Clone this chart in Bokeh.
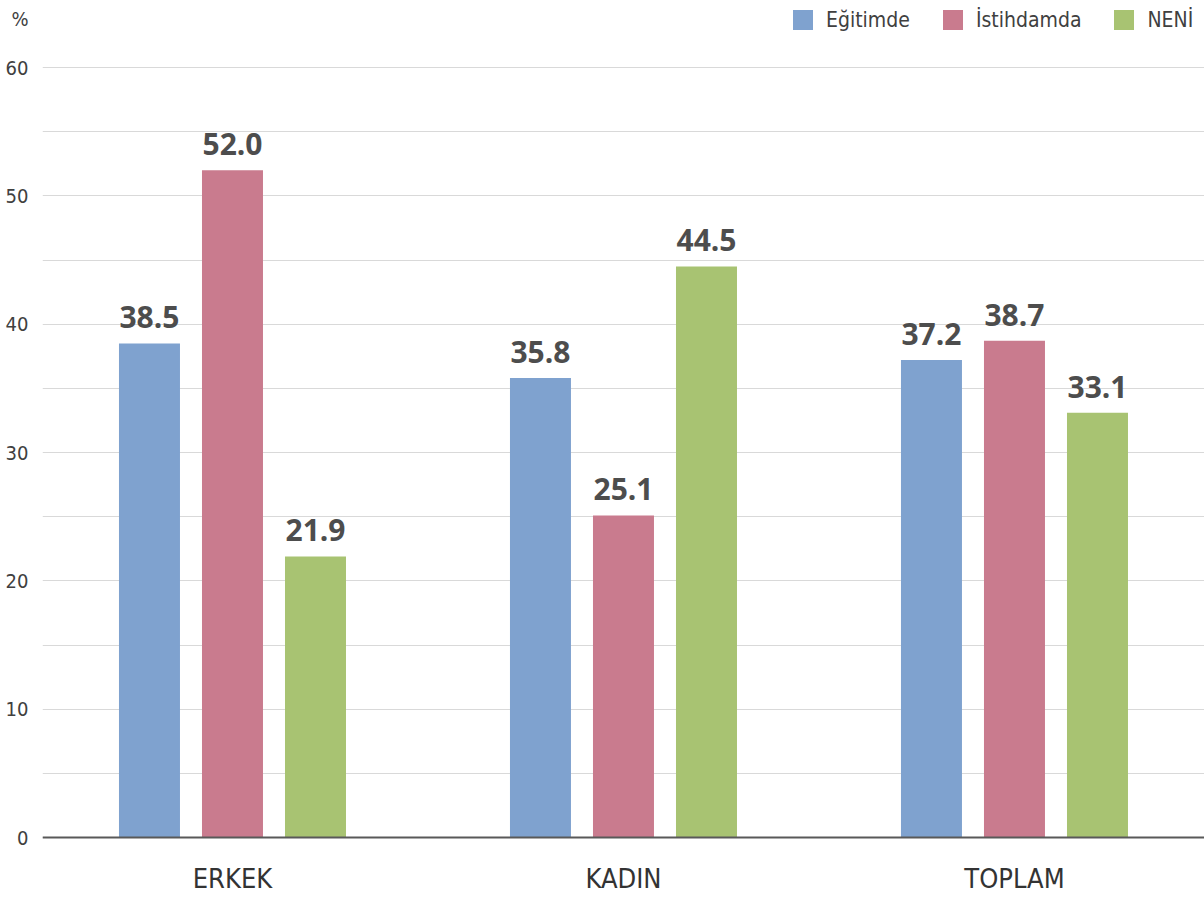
from bokeh.plotting import figure
from bokeh.models import ColumnDataSource, Range1d, FixedTicker, Legend, LegendItem, Span
from bokeh.transform import dodge
from bokeh.core.properties import value
from bokeh.embed import file_html
from bokeh.resources import INLINE

categories = ["ERKEK", "KADIN", "TOPLAM"]
series_names = ["Eğitimde", "İstihdamda", "NENİ"]
egitimde = [38.5, 35.8, 37.2]
istihdamda = [52.0, 25.1, 38.7]
neni = [21.9, 44.5, 33.1]
colors = ["#7fa2cf", "#c97b8e", "#a8c372"]
y_ticks = [0, 10, 20, 30, 40, 50, 60]
grid_ticks = [0, 5, 10, 15, 20, 25, 30, 35, 40, 45, 50, 55, 60]
unit_label = "%"

COND = "DejaVu Sans Condensed, Roboto"

xpos = list(range(len(categories)))
src = ColumnDataSource(dict(
    x=xpos,
    s0=egitimde, s1=istihdamda, s2=neni,
    t0=[f"{v:.1f}" for v in egitimde],
    t1=[f"{v:.1f}" for v in istihdamda],
    t2=[f"{v:.1f}" for v in neni],
))
cat_src = ColumnDataSource(dict(x=xpos, y=[-3.2] * len(categories), label=categories))

p = figure(width=1204, height=900, x_range=Range1d(-0.4859, 2.486),
           y_range=Range1d(-4.909, 65.221), output_backend="svg", toolbar_location=None,
           min_border_left=42, min_border_right=0, min_border_top=0, min_border_bottom=0)
p.outline_line_color = None
p.background_fill_color = "white"
p.xaxis.visible = False

offsets = [-0.2123, 0.0, 0.2123]
renderers = []
for i in range(3):
    r = p.vbar(x=dodge("x", offsets[i]), top=f"s{i}", bottom=0, width=0.156,
               source=src, fill_color=colors[i], line_color=None)
    renderers.append(r)
    p.text(x=dodge("x", offsets[i]), y=f"s{i}", text=f"t{i}", source=src,
           text_align="center", text_baseline="alphabetic", y_offset=-26,
           text_font=value("Open Sans"), text_font_style="bold", text_font_size="30px",
           text_color="#4d4d4d")

baseline = Span(location=0, dimension="width", line_color="#595959", line_width=2)
p.add_layout(baseline)

p.text(x="x", y="y", text="label", source=cat_src, text_align="center",
       text_baseline="middle", text_font=value(COND), text_font_size="27px",
       text_color="#333333")

p.xgrid.grid_line_color = None
p.ygrid.ticker = FixedTicker(ticks=grid_ticks)
p.ygrid.grid_line_color = "#d9d9d9"
p.ygrid.grid_line_width = 1

p.yaxis.ticker = FixedTicker(ticks=y_ticks + [63.8])
p.yaxis.major_label_overrides = {63.8: unit_label}
p.yaxis.axis_line_color = None
p.yaxis.major_tick_line_color = None
p.yaxis.minor_tick_line_color = None
p.yaxis.major_tick_out = 0
p.yaxis.major_tick_in = 0
p.yaxis.major_label_standoff = 14
p.yaxis.major_label_text_font = COND
p.yaxis.major_label_text_font_size = "20px"
p.yaxis.major_label_text_color = "#404040"

legend = Legend(items=[LegendItem(label=series_names[i], renderers=[renderers[i]]) for i in range(3)],
                orientation="horizontal", location=(748, 868),
                glyph_width=25, glyph_height=25, label_height=25, label_standoff=11,
                spacing=30, padding=0, margin=0, border_line_color=None,
                background_fill_alpha=0,
                label_text_font=COND, label_text_font_size="21px",
                label_text_color="#404040", label_text_baseline="middle")
p.add_layout(legend)

open("out.html", "w").write(file_html(p, INLINE))
